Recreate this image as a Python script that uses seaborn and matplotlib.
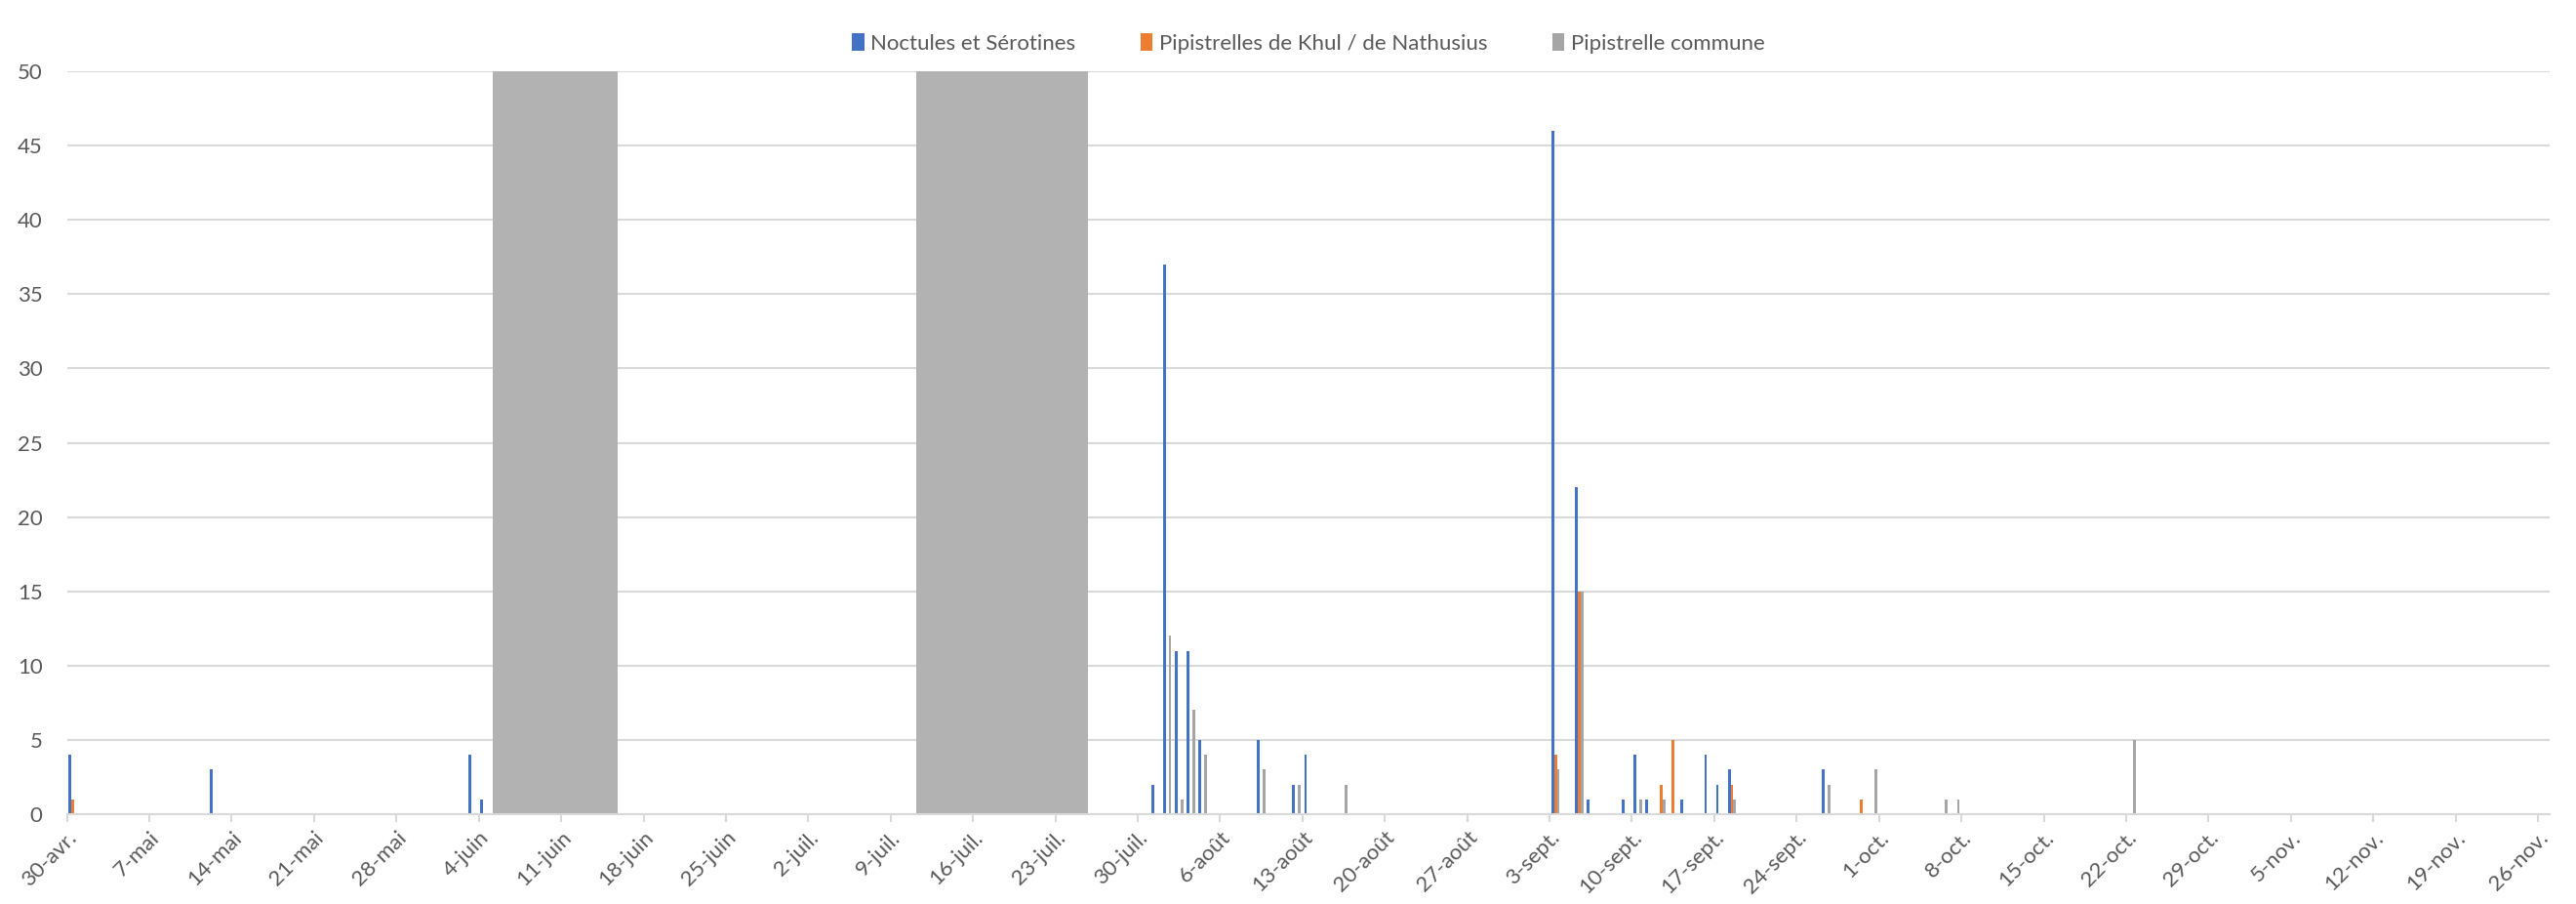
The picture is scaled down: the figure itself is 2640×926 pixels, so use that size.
import pandas as pd
import matplotlib
matplotlib.use("Agg")
import matplotlib.pyplot as plt
import seaborn as sns

# Effectifs par date et par groupe (dates sans contact = 0)
noctules_dates = ["04-30", "05-12", "06-03", "06-04", "07-31", "08-01", "08-02", "08-03",
                  "08-04", "08-09", "08-12", "08-13", "09-03", "09-05", "09-06", "09-09",
                  "09-10", "09-11", "09-14", "09-16", "09-17", "09-18", "09-26"]
noctules_vals = [4, 3, 4, 1, 2, 37, 11, 11, 5, 5, 2, 4, 46, 22, 1, 1, 4, 1, 1, 4, 2, 3, 3]

khul_dates = ["04-30", "09-03", "09-05", "09-12", "09-13", "09-18", "09-29"]
khul_vals = [1, 4, 15, 2, 5, 2, 1]

commune_dates = ["08-01", "08-02", "08-03", "08-04", "08-09", "08-12", "08-16", "09-03",
                 "09-05", "09-10", "09-12", "09-18", "09-26", "09-30", "10-06", "10-07",
                 "10-22"]
commune_vals = [12, 1, 7, 4, 3, 2, 2, 3, 15, 1, 1, 1, 2, 3, 1, 1, 5]

series_names = ["Noctules et Sérotines", "Pipistrelles de Khul / de Nathusius", "Pipistrelle commune"]
colors = ["#4472C4", "#ED7D31", "#A5A5A5"]

# périodes sans enregistrement (blocs gris)
gap_starts = ["06-05", "07-11"]
gap_ends = ["06-15", "07-25"]

tick_labels = ["30-avr.", "7-mai", "14-mai", "21-mai", "28-mai", "4-juin", "11-juin", "18-juin",
               "25-juin", "2-juil.", "9-juil.", "16-juil.", "23-juil.", "30-juil.", "6-août",
               "13-août", "20-août", "27-août", "3-sept.", "10-sept.", "17-sept.", "24-sept.",
               "1-oct.", "8-oct.", "15-oct.", "22-oct.", "29-oct.", "5-nov.", "12-nov.",
               "19-nov.", "26-nov."]

all_days = pd.date_range("2021-04-30", "2021-11-26", freq="D").strftime("%m-%d").tolist()

rows = []
for name, dates, vals in zip(series_names,
                             [noctules_dates, khul_dates, commune_dates],
                             [noctules_vals, khul_vals, commune_vals]):
    counts = dict(zip(dates, vals))
    for d in all_days:
        rows.append({"jour": d, "groupe": name, "nb": counts.get(d, 0)})
df = pd.DataFrame(rows)

sns.set_style("white")
plt.rcParams["font.family"] = ["Lato", "DejaVu Sans"]

fig, ax = plt.subplots(figsize=(26.4, 9.26), dpi=100)
fig.subplots_adjust(left=0.026, right=0.9898, bottom=0.0994, top=0.921)

sns.barplot(data=df, x="jour", y="nb", hue="groupe", order=all_days,
            hue_order=series_names, palette=colors, saturation=1,
            width=0.72, linewidth=0, errorbar=None, ax=ax)

for s, e in zip(gap_starts, gap_ends):
    ax.axvspan(all_days.index(s) - 0.3, all_days.index(e) + 0.3, color="#B2B2B2", lw=0, zorder=1)

ax.set_xlim(-0.5, len(all_days) - 0.5)
ax.set_ylim(0, 50)
ax.set_yticks(range(0, 51, 5))
ax.yaxis.grid(True, color="#D9D9D9", lw=1.5)
ax.set_axisbelow(True)
ax.tick_params(axis="y", length=0, labelsize=16, labelcolor="#595959", pad=18)

ax.set_xticks([i - 0.5 for i in range(0, len(all_days), 7)])
ax.set_xticklabels(tick_labels, rotation=45, ha="right", rotation_mode="anchor",
                   fontsize=16, color="#595959")
ax.tick_params(axis="x", length=6, width=1.5, color="#D9D9D9", pad=4, bottom=True)

for side in ["top", "right", "left"]:
    ax.spines[side].set_visible(False)
ax.spines["bottom"].set_color("#D9D9D9")
ax.spines["bottom"].set_linewidth(1.5)

ax.set_xlabel("")
ax.set_ylabel("")

handles, labels = ax.get_legend_handles_labels()
ax.legend(handles, labels, loc="upper center", bbox_to_anchor=(0.508, 0.985),
          bbox_transform=fig.transFigure, ncol=3, frameon=False, fontsize=16,
          handlelength=0.55, handleheight=0.9, handletextpad=0.3, columnspacing=3.0,
          labelcolor="#595959")

plt.savefig("out.png", dpi=100)
